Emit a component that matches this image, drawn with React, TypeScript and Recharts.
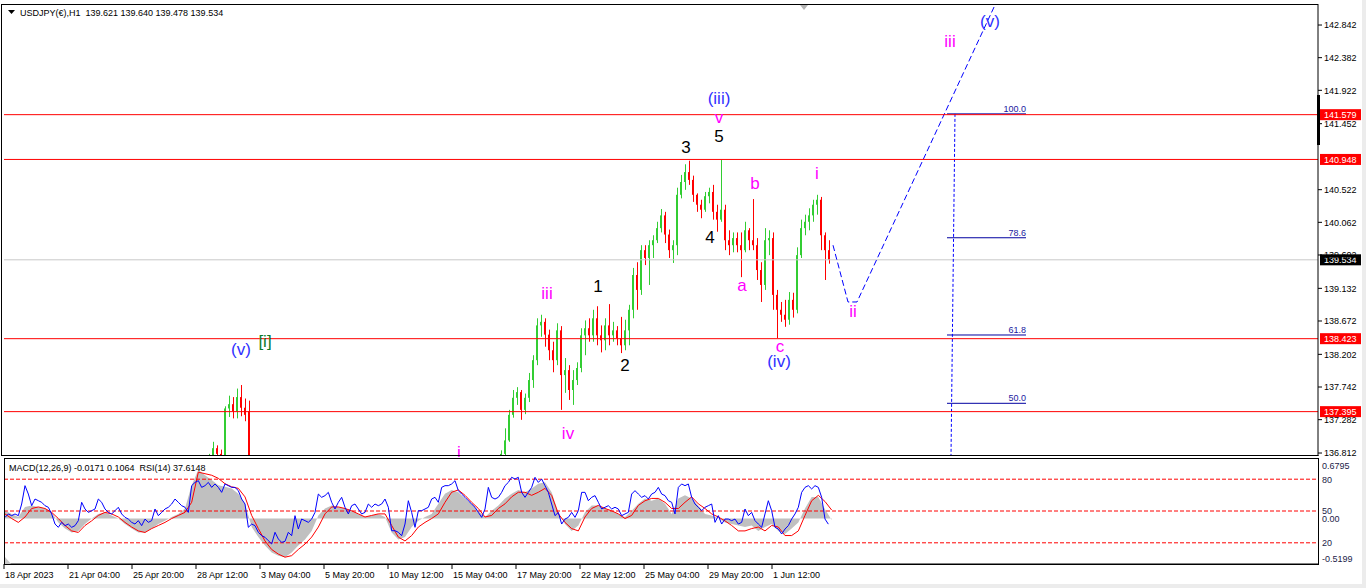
import React from "react";
import {
  ComposedChart,
  Bar,
  Line,
  Area,
  XAxis,
  YAxis,
  ReferenceLine,
  ReferenceDot,
} from "recharts";

const FONT = "'Liberation Sans', Arial, sans-serif";
const GREEN = "#32cd32";
const RED = "#ff0000";
const AXIS_TEXT = "#1c1c48";

// main pane: one pixel per H1 bar, hour 0 = 18 Apr 12:00
const HOURS = 1314;
const PRICE_LOW = 136.77;
const PRICE_HIGH = 143.124;

const PRICE_TICKS = [
  142.842, 142.382, 141.922, 141.452, 140.522, 140.062, 139.602, 139.132, 138.672, 138.202, 137.742,
  137.282, 136.812,
];
const RED_LEVELS = [141.579, 140.948, 138.423, 137.395];
const LAST_PRICE = 139.534;

const TIME_TICKS = [0, 64, 128, 192, 256, 320, 384, 448, 512, 576, 640, 704, 768];
const TIME_LABELS = [
  "18 Apr 2023",
  "21 Apr 04:00",
  "25 Apr 20:00",
  "28 Apr 12:00",
  "3 May 04:00",
  "5 May 20:00",
  "10 May 12:00",
  "15 May 04:00",
  "17 May 20:00",
  "22 May 12:00",
  "25 May 04:00",
  "29 May 20:00",
  "1 Jun 12:00",
];

// 4-hour candles: [bar, open, high, low, close]
const CANDLES: number[][] = [
  [51, 136.7, 136.8, 136.6, 136.76],
  [52, 136.76, 136.97, 136.72, 136.88],
  [53, 136.88, 136.92, 136.74, 136.8],
  [54, 136.8, 136.86, 136.7, 136.78],
  [55, 136.78, 137.47, 136.76, 137.44],
  [56, 137.44, 137.62, 137.32, 137.5],
  [57, 137.5, 137.6, 137.3, 137.4],
  [58, 137.4, 137.72, 137.3, 137.6],
  [59, 137.6, 137.77, 137.33, 137.45],
  [60, 137.45, 137.58, 137.26, 137.35],
  [61, 137.4, 137.55, 136.4, 136.5],
  [124, 136.66, 136.85, 136.6, 136.8],
  [125, 136.8, 137.16, 136.75, 136.99],
  [126, 136.99, 137.42, 136.97, 137.35],
  [127, 137.35, 137.7, 137.31, 137.59],
  [128, 137.59, 137.74, 137.49, 137.67],
  [129, 137.67, 137.7, 137.28, 137.42],
  [130, 137.42, 137.65, 137.36, 137.59],
  [131, 137.59, 137.94, 137.53, 137.84],
  [132, 137.84, 138.19, 137.73, 138.12],
  [133, 138.12, 138.71, 138.05, 138.61],
  [134, 138.61, 138.76, 138.45, 138.66],
  [135, 138.66, 138.71, 138.31, 138.48],
  [136, 138.48, 138.55, 138.12, 138.26],
  [137, 138.26, 138.38, 137.95, 138.12],
  [138, 138.12, 138.64, 138.05, 138.54],
  [139, 138.54, 138.6, 137.42, 137.91],
  [140, 137.91, 138.15, 137.66, 137.98],
  [141, 137.98, 138.05, 137.56, 137.7],
  [142, 137.7, 137.98, 137.49, 137.84],
  [143, 137.84, 138.09, 137.77, 138.01],
  [144, 138.01, 138.57, 137.95, 138.47],
  [145, 138.47, 138.68, 138.19, 138.57],
  [146, 138.57, 138.71, 138.38, 138.47],
  [147, 138.47, 138.83, 138.38, 138.71],
  [148, 138.71, 138.88, 138.33, 138.47],
  [149, 138.47, 138.61, 138.23, 138.4],
  [150, 138.4, 138.71, 138.26, 138.61],
  [151, 138.61, 138.91, 138.33, 138.47],
  [152, 138.47, 138.66, 138.38, 138.54],
  [153, 138.54, 138.6, 138.33, 138.43],
  [154, 138.43, 138.73, 138.22, 138.33],
  [155, 138.33, 138.69, 138.26, 138.54],
  [156, 138.54, 138.9, 138.33, 138.83],
  [157, 138.83, 139.42, 138.71, 139.32],
  [158, 139.32, 139.5, 138.83, 139.11],
  [159, 139.11, 139.74, 139.04, 139.67],
  [160, 139.67, 139.74, 139.46, 139.56],
  [161, 139.56, 139.81, 139.18, 139.74],
  [162, 139.74, 139.88, 139.56, 139.81],
  [163, 139.81, 140.07, 139.77, 139.98],
  [164, 139.98, 140.25, 139.92, 140.16],
  [165, 140.16, 140.21, 139.77, 139.89],
  [166, 139.89, 139.96, 139.56, 139.67],
  [167, 139.67, 139.81, 139.49, 139.74],
  [168, 139.74, 140.55, 139.6, 140.45],
  [169, 140.45, 140.73, 140.4, 140.63],
  [170, 140.63, 140.88, 140.52, 140.77],
  [171, 140.77, 140.93, 140.59, 140.66],
  [172, 140.66, 140.72, 140.35, 140.45],
  [173, 140.45, 140.47, 140.21, 140.31],
  [174, 140.31, 140.38, 140.12, 140.24],
  [175, 140.24, 140.49, 140.21, 140.43],
  [176, 140.43, 140.55, 140.33, 140.49],
  [177, 140.49, 140.59, 140.1, 140.21],
  [178, 140.21, 140.31, 139.93, 140.1],
  [179, 140.1, 140.94, 140.07, 140.24],
  [180, 140.24, 140.31, 139.67, 139.81],
  [181, 139.81, 139.95, 139.6, 139.74],
  [182, 139.74, 139.92, 139.64, 139.84],
  [183, 139.84, 139.92, 139.64, 139.74],
  [184, 139.74, 139.92, 139.29, 139.67],
  [185, 139.67, 140.07, 139.64, 139.95],
  [186, 139.95, 139.98, 139.67, 139.81],
  [187, 139.81, 140.39, 139.67, 139.74],
  [188, 139.74, 139.84, 139.25, 139.39],
  [189, 139.39, 139.5, 138.94, 139.18],
  [190, 139.18, 139.98, 139.11, 139.81],
  [191, 139.81, 139.95, 139.6, 139.84],
  [192, 139.84, 139.92, 138.83, 139.04],
  [193, 139.04, 139.11, 138.43, 138.83],
  [194, 138.83, 138.94, 138.66, 138.76],
  [195, 138.76, 138.97, 138.59, 138.69],
  [196, 138.69, 139.08, 138.62, 138.97],
  [197, 138.97, 139.07, 138.72, 138.83],
  [198, 138.83, 139.71, 138.78, 139.6],
  [199, 139.6, 140.1, 139.56, 139.98],
  [200, 139.98, 140.17, 139.88, 140.07],
  [201, 140.07, 140.26, 139.95, 140.16],
  [202, 140.16, 140.38, 140.07, 140.31],
  [203, 140.31, 140.45, 140.17, 140.38],
  [204, 140.38, 140.42, 139.67, 139.88],
  [205, 139.88, 139.92, 139.25, 139.67],
  [206, 139.67, 139.81, 139.48, 139.534],
];

// RSI(14), sampled every 10/3 hours from hour 1
const RSI_STEP = 10 / 3;
const RSI_VALUES = [
  44.0, 47.2, 45.6, 47.2, 45.6, 56.6, 73.9, 66.0, 55.0, 61.3,
  59.7, 58.2, 55.0, 53.5, 47.2, 37.7, 34.6, 39.3, 36.2, 37.7,
  34.6, 36.2, 40.9, 58.2, 51.9, 48.7, 50.3, 51.9, 61.3, 58.2,
  51.9, 48.7, 47.2, 50.3, 53.5, 47.2, 44.0, 42.4, 39.3, 37.7,
  40.9, 36.2, 42.4, 39.3, 40.9, 51.9, 45.6, 48.7, 51.9, 53.5,
  56.6, 61.3, 58.2, 55.0, 53.5, 48.7, 73.9, 77.0, 78.6, 72.3,
  73.9, 77.0, 72.3, 75.5, 72.3, 67.6, 75.5, 73.9, 72.3, 72.3,
  69.2, 61.3, 56.6, 34.6, 37.7, 36.2, 29.9, 26.7, 25.2, 22.0,
  18.9, 29.9, 23.6, 20.4, 21.4, 29.9, 26.7, 45.6, 33.0, 42.4,
  40.9, 39.3, 42.4, 48.7, 66.0, 62.9, 64.5, 67.6, 58.2, 51.9,
  58.2, 62.9, 53.5, 47.2, 55.0, 56.6, 51.9, 47.2, 48.7, 56.6,
  53.5, 56.6, 55.0, 56.6, 61.3, 53.5, 31.4, 31.4, 29.9, 26.7,
  37.7, 59.7, 48.7, 34.6, 50.3, 50.3, 51.9, 53.5,
  61.3, 62.9, 58.2, 72.3, 73.9, 73.9, 75.5, 78.6, 69.2, 66.0,
  62.9, 59.7, 56.6, 53.5, 48.7, 44.0, 51.9, 72.3, 62.9, 61.3,
  62.9, 67.6, 73.9, 77.0, 81.8, 80.2, 81.8, 67.6, 62.9, 67.6,
  72.3, 81.8, 77.0, 80.2, 73.9, 67.6, 56.6, 45.6, 48.7, 37.7,
  42.4, 44.0, 48.7, 44.0, 50.3, 67.6, 67.6, 59.7, 62.9, 64.5,
  58.2, 51.9, 53.5, 55.0, 51.9, 53.5, 51.9, 45.6, 47.2, 48.7,
  66.0, 69.2, 66.0, 62.9, 64.5, 61.3, 66.0, 67.6, 72.3, 66.0,
  64.5, 59.7, 58.2, 47.2, 72.3, 75.5, 73.9, 75.5, 62.9, 56.6,
  53.5, 50.3, 53.5, 55.0, 56.6, 39.3, 45.6, 37.7, 42.4, 42.4,
  40.9, 42.4, 37.7, 39.3, 51.9, 45.6, 48.7, 40.9, 37.7, 34.6,
  47.2, 59.7, 50.3, 34.6, 33.0, 28.3, 33.0, 36.2, 42.4, 47.2,
  53.5, 67.6, 72.3, 73.9, 70.8, 73.9, 72.3, 62.9, 42.4, 37.6,
];

// MACD(12,26,9) main (histogram) and signal, sampled every 20/3 hours from hour 1
const MACD_STEP = 20 / 3;
const MACD_VALUES = [
  0.1, 0.06, 0.02, 0.15, 0.17, 0.15, 0.13, 0.08, -0.05, -0.13,
  -0.18, -0.16, -0.07, 0.0, 0.06, 0.08, 0.04, 0.0, -0.07, -0.13,
  -0.18, -0.18, -0.13, -0.07, -0.03, 0.02, 0.06, 0.13, 0.43, 0.63,
  0.56, 0.5, 0.43, 0.41, 0.39, 0.32, 0.19, -0.11, -0.24, -0.35,
  -0.44, -0.48, -0.5, -0.44, -0.35, -0.27, -0.16, 0.04, 0.13, 0.17,
  0.15, 0.13, 0.1, 0.06, 0.02, 0.04, 0.06, 0.02, -0.18, -0.27,
  -0.24, -0.11, -0.03, 0.02,
  0.06, 0.19, 0.32, 0.37, 0.34, 0.26, 0.19, 0.1, 0.02, 0.1,
  0.17, 0.26, 0.32, 0.37, 0.34, 0.39, 0.45, 0.47, 0.34, 0.08,
  -0.07, -0.16, -0.09, 0.08, 0.17, 0.17, 0.13, 0.1, 0.06, 0.02,
  0.1, 0.19, 0.26, 0.23, 0.26, 0.19, 0.06, 0.26, 0.3, 0.26,
  0.17, 0.06, 0.04, 0.0, -0.05, -0.07, -0.09, -0.11, -0.09, -0.16,
  -0.11, -0.07, -0.16, -0.2, -0.13, -0.05, 0.13, 0.28, 0.28, 0.12, -0.02,
];
const SIGNAL_VALUES = [
  0.06, 0.0, -0.05, 0.02, 0.13, 0.15, 0.13, 0.08, 0.0, -0.09,
  -0.16, -0.18, -0.09, -0.03, 0.04, 0.08, 0.06, 0.02, -0.05, -0.11,
  -0.16, -0.18, -0.13, -0.09, -0.05, 0.0, 0.04, 0.08, 0.21, 0.6,
  0.58, 0.56, 0.52, 0.45, 0.41, 0.39, 0.28, 0.04, -0.13, -0.29,
  -0.4, -0.46, -0.5, -0.48, -0.4, -0.33, -0.24, -0.11, 0.06, 0.15,
  0.15, 0.13, 0.1, 0.06, 0.02, 0.04, 0.06, 0.06, -0.09, -0.24,
  -0.29, -0.22, -0.11, -0.05,
  0.0, 0.06, 0.21, 0.34, 0.37, 0.3, 0.21, 0.13, 0.02, 0.04,
  0.13, 0.19, 0.28, 0.34, 0.34, 0.3, 0.34, 0.39, 0.3, 0.06,
  -0.05, -0.13, -0.16, 0.02, 0.13, 0.17, 0.13, 0.1, 0.06, 0.0,
  0.04, 0.17, 0.23, 0.26, 0.26, 0.21, 0.13, 0.13, 0.21, 0.28,
  0.19, 0.13, 0.06, 0.02, -0.03, -0.09, -0.16, -0.16, -0.13, -0.11,
  -0.16, -0.09, -0.11, -0.22, -0.22, -0.16, 0.04, 0.23, 0.3, 0.22, 0.11,
];

// projected path of wave ii / iii
const PROJECTION = [
  [829, 139.74],
  [844, 138.94],
  [853, 138.94],
  [991, 143.124],
];

// fibonacci retracement
const FIB_HIGH = 141.59;
const FIB_LOW = 133.435;
const FIB_LEVELS = [100, 78.6, 61.8, 50];
const FIB_FROM = 943;
const FIB_TO = 1022;
const FIB_STEM = [
  [951, 141.59],
  [947, 136.77],
];

type Degree = "primary" | "intermediate" | "minor" | "minute";
const WAVE_LABELS: [string, number, number, Degree][] = [
  ["(v)", 237, 138.277, "intermediate"],
  ["[i]", 261, 138.39, "primary"],
  ["i", 455, 136.826, "minor"],
  ["iii", 543, 139.066, "minor"],
  ["iv", 564, 137.094, "minor"],
  ["1", 594, 139.151, "minute"],
  ["2", 621, 138.052, "minute"],
  ["3", 682, 141.123, "minute"],
  ["4", 706, 139.855, "minute"],
  ["5", 715, 141.278, "minute"],
  ["v", 715, 141.546, "minor"],
  ["(iii)", 715, 141.8, "intermediate"],
  ["b", 751, 140.616, "minor"],
  ["a", 738, 139.179, "minor"],
  ["c", 776, 138.31, "minor"],
  ["(iv)", 775, 138.1, "intermediate"],
  ["i", 813, 140.757, "minor"],
  ["ii", 849, 138.799, "minor"],
  ["iii", 946, 142.603, "minor"],
  ["(v)", 986, 142.885, "intermediate"],
];
const DEGREE_COLOR: Record<Degree, string> = {
  primary: "#0a7a2a",
  intermediate: "#3030ff",
  minor: "#ff00ff",
  minute: "#000000",
};

const RSI_LEVELS = [80, 50, 20];
const MACD_MARKS = [0.6795, 0, -0.5199];

const candleData = CANDLES.map(([k, o, h, l, c]) => ({ x: k * 4 + 1, o, h, l, c, range: [l, h] }));
const rsiData = RSI_VALUES.map((y, i) => ({ x: 1 + i * RSI_STEP, y }));
const macdData = MACD_VALUES.map((y, i) => ({ x: 1 + i * MACD_STEP, y }));
const signalData = SIGNAL_VALUES.map((y, i) => ({ x: 1 + i * MACD_STEP, y }));
const projectionData = PROJECTION.map(([x, y]) => ({ x, y }));
const fibStemData = FIB_STEM.map(([x, y]) => ({ x, y }));

function Candle(props: any) {
  const { x, y, width, height } = props;
  const d = props.payload ?? props;
  if (x == null || y == null || !isFinite(height)) return null;
  const top = Math.min(y, y + height);
  const span = Math.abs(height);
  const cx = Math.round(x + width / 2);
  const toY = (v: number) => top + ((d.h - v) / (d.h - d.l || 1)) * span;
  const col = d.c >= d.o ? GREEN : RED;
  const bTop = toY(Math.max(d.o, d.c));
  const bBot = toY(Math.min(d.o, d.c));
  return (
    <g>
      <rect x={cx} y={top} width={1} height={Math.max(1, span)} fill={col} />
      <rect x={cx - 1} y={bTop} width={2} height={Math.max(1, bBot - bTop)} fill={col} />
    </g>
  );
}

const priceTag = (value: number, bg: string, fg: string) => (p: any) => {
  const vb = p.viewBox;
  const x = vb.x + vb.width + 2;
  return (
    <g>
      <rect x={x} y={vb.y - 5.5} width={41} height={11} fill={bg} />
      <text x={x + 4} y={vb.y + 3.3} fontSize={9} fontFamily={FONT} fill={fg}>
        {value.toFixed(3)}
      </text>
    </g>
  );
};

const fibLabel = (text: string) => (p: any) => {
  const vb = p.viewBox;
  return (
    <text x={vb.x + vb.width} y={vb.y - 2} textAnchor="end" fontSize={9} fontFamily={FONT} fill="#1a1aa0">
      {text}
    </text>
  );
};

const sideLabel = (text: string) => (p: any) => {
  const vb = p.viewBox;
  return (
    <text x={vb.x + vb.width + 4} y={vb.y + 3.3} fontSize={9} fontFamily={FONT} fill={AXIS_TEXT}>
      {text}
    </text>
  );
};

const waveShape = (text: string, color: string) => (p: any) => (
  <text
    x={p.cx}
    y={p.cy}
    textAnchor="middle"
    dominantBaseline="central"
    fontSize={17}
    fontFamily={FONT}
    fill={color}
  >
    {text}
  </text>
);

function TimeTick(props: any) {
  const { x, y, payload } = props;
  const label = TIME_LABELS[TIME_TICKS.indexOf(payload.value)];
  return (
    <text x={x + 1} y={y + 7} fontSize={9} fontFamily={FONT} fill="#000">
      {label}
    </text>
  );
}

export default function App() {
  return (
    <div style={{ position: "absolute", left: 0, top: 0, width: 1366, height: 588, background: "#fff" }}>
      <div style={{ position: "absolute", left: 0, top: 0, width: 1366, height: 460 }}>
        <ComposedChart width={1366} height={460} data={candleData} margin={{ top: 5, right: 0, left: 4, bottom: 4 }}>
          <XAxis dataKey="x" type="number" domain={[0, HOURS]} hide allowDataOverflow />
          <YAxis
            orientation="right"
            type="number"
            domain={[PRICE_LOW, PRICE_HIGH]}
            allowDataOverflow
            ticks={PRICE_TICKS}
            interval={0}
            width={48}
            tickSize={4}
            tickMargin={2}
            stroke="#000"
            tick={{ fontSize: 9, fill: "#000", fontFamily: FONT }}
            tickFormatter={(v: number) => v.toFixed(3)}
          />
          <ReferenceLine y={LAST_PRICE} stroke="#c8c8c8" label={priceTag(LAST_PRICE, "#000", "#fff")} />
          {FIB_LEVELS.map((lvl) => {
            const p = FIB_LOW + ((FIB_HIGH - FIB_LOW) * lvl) / 100;
            return (
              <ReferenceLine
                key={lvl}
                segment={[
                  { x: FIB_FROM, y: p },
                  { x: FIB_TO, y: p },
                ]}
                stroke="#0000a0"
                label={fibLabel(lvl.toFixed(1))}
              />
            );
          })}
          <Bar dataKey="range" shape={Candle} isAnimationActive={false} />
          <Line
            data={fibStemData}
            dataKey="y"
            stroke="#0000ff"
            strokeDasharray="3 2"
            dot={false}
            isAnimationActive={false}
          />
          <Line
            data={projectionData}
            dataKey="y"
            stroke="#0000ff"
            strokeDasharray="6 3"
            dot={false}
            isAnimationActive={false}
          />
          {RED_LEVELS.map((v) => (
            <ReferenceLine key={v} y={v} stroke={RED} label={priceTag(v, RED, "#fff")} />
          ))}
          {WAVE_LABELS.map(([text, x, y, deg], i) => (
            <ReferenceDot key={i} x={x} y={y} r={1} shape={waveShape(text, DEGREE_COLOR[deg])} />
          ))}
        </ComposedChart>
      </div>

      <div style={{ position: "absolute", left: 0, top: 457, width: 1366, height: 131, background: "#fff" }}>
        <ComposedChart width={1366} height={131} margin={{ top: 1, right: 48, left: 4, bottom: 0 }}>
          <XAxis
            dataKey="x"
            type="number"
            domain={[0, HOURS]}
            allowDataOverflow
            ticks={TIME_TICKS}
            interval={0}
            height={24}
            tickSize={5}
            stroke="#000"
            tick={<TimeTick />}
          />
          <YAxis yAxisId="macd" hide type="number" domain={[-0.588, 0.783]} allowDataOverflow />
          <YAxis yAxisId="rsi" hide type="number" domain={[0, 100]} allowDataOverflow />
          <Area
            yAxisId="macd"
            data={macdData}
            dataKey="y"
            type="linear"
            baseValue={0}
            fill="#c0c0c0"
            fillOpacity={1}
            stroke="none"
            isAnimationActive={false}
          />
          {RSI_LEVELS.map((v) => (
            <ReferenceLine
              key={v}
              yAxisId="rsi"
              y={v}
              stroke={RED}
              strokeDasharray="4 2"
              label={sideLabel(String(v))}
            />
          ))}
          {MACD_MARKS.map((v) => (
            <ReferenceLine
              key={v}
              yAxisId="macd"
              y={v}
              stroke="none"
              label={sideLabel(v === 0 ? "0.00" : v.toFixed(4))}
            />
          ))}
          <Line
            yAxisId="macd"
            data={signalData}
            dataKey="y"
            stroke={RED}
            dot={false}
            isAnimationActive={false}
          />
          <Line
            yAxisId="rsi"
            data={rsiData}
            dataKey="y"
            stroke="#0000ff"
            dot={false}
            isAnimationActive={false}
          />
        </ComposedChart>
      </div>

      <svg
        width={1366}
        height={588}
        style={{ position: "absolute", left: 0, top: 0, pointerEvents: "none" }}
      >
        <line x1={1} x2={1318.5} y1={4.5} y2={4.5} stroke="#000" />
        <line x1={1.5} x2={1.5} y1={4} y2={456} stroke="#000" />
        <line x1={1} x2={1318.5} y1={455.5} y2={455.5} stroke="#000" />
        <rect x={4.5} y={458.5} width={1314} height={106} fill="none" stroke="#000" />
        <rect x={1317} y={95} width={3} height={50} fill="#000" />
        <polygon points="800,5 808,5 804,10" fill="#b4b4b4" />
        <polygon points="5,557 5,564 11,564" fill="#c8c8c8" />
        <rect x={1362} y={0} width={4} height={588} fill="#ececec" />
        <rect x={0} y={584} width={1366} height={4} fill="#ececec" />
        <polygon points="8,10 15,10 11.5,14" fill="#000" />
        <text x={20} y={16} fontSize={9} fontFamily={FONT} fill="#000" style={{ whiteSpace: "pre" }}>
          {"USDJPY(€),H1  139.621 139.640 139.478 139.534"}
        </text>
        <text x={9} y={471} fontSize={9} fontFamily={FONT} fill="#000" style={{ whiteSpace: "pre" }}>
          {"MACD(12,26,9) -0.0171 0.1064  RSI(14) 37.6148"}
        </text>
      </svg>
    </div>
  );
}
